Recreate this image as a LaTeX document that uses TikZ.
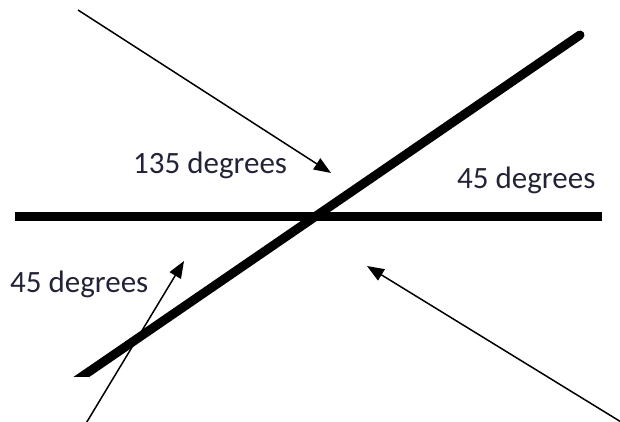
\documentclass[tikz,border=0pt]{standalone}
\usepackage{fontspec}
\setmainfont{Carlito}
\usetikzlibrary{arrows.meta}
\definecolor{txt}{RGB}{35,35,55}
\begin{document}
\begin{tikzpicture}[x=1pt,y=-1pt,
  thickline/.style={line width=9pt},
  pointer/.style={line width=1.5pt,-{Triangle[length=17pt,width=13pt]}},
  lbl/.style={anchor=base west,inner sep=0pt,text=txt,font=\fontsize{31}{37}\selectfont}]
\useasboundingbox (0,0) rectangle (620,421);
% thick lines
\coordinate (hl) at (15,216.5);
\coordinate (hr) at (602,216.5);
\coordinate (dl) at (74,382);
\coordinate (dr) at (580,35);
\draw[thickline] (hl) -- (hr);
\begin{scope}
\clip (0,0) rectangle (620,376);
\draw[thickline,line cap=round] (dl) -- (dr);
\end{scope}
% labels
\node[lbl] (l135) at (133,173) {135 degrees};
\node[lbl] (l45r) at (457,188) {45 degrees};
\node[lbl] (l45l) at (10,292) {45 degrees};
% pointers
\coordinate (a1s) at (78,10);
\coordinate (a1e) at (331,173);
\coordinate (a2s) at (626,425);
\coordinate (a2e) at (367,266);
\coordinate (a3s) at (85,425);
\coordinate (a3e) at (184,261);
\draw[pointer] (a1s) -- (a1e);
\draw[pointer] (a2s) -- (a2e);
\draw[pointer] (a3s) -- (a3e);
\end{tikzpicture}
\end{document}
